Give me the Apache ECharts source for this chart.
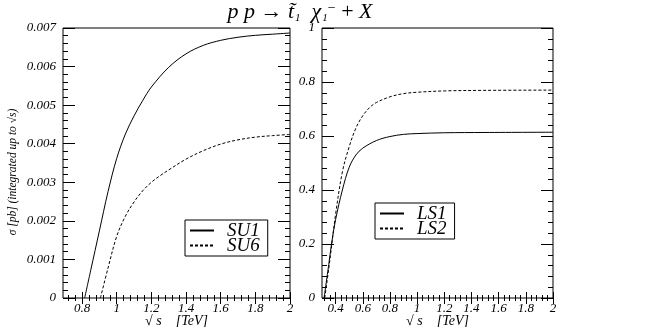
<!DOCTYPE html>
<html>
<head>
<meta charset="utf-8">
<script src="https://cdn.jsdelivr.net/npm/echarts@6/dist/echarts.min.js"></script>
<style>
  html, body { margin: 0; padding: 0; background: #fff; }
  #chart { width: 654px; height: 327px; }
</style>
</head>
<body>
<div id="chart"></div>
<script>
// integrated cross section vs sqrt(s)
const su1Energy = [0.815, 0.85, 0.9, 0.95, 1.0, 1.05, 1.1, 1.15, 1.2, 1.3, 1.4, 1.5, 1.6, 1.7, 1.8, 1.9, 2.0];
const su1Sigma  = [0, 0.00072, 0.00174, 0.00276, 0.00362, 0.00425, 0.00472, 0.00512, 0.00547, 0.00598, 0.00633, 0.00655, 0.00668, 0.00676, 0.00681, 0.00684, 0.00687];

const su6Energy = [0.906, 0.95, 1.0, 1.05, 1.1, 1.15, 1.2, 1.25, 1.3, 1.4, 1.5, 1.6, 1.7, 1.8, 1.9, 2.0];
const su6Sigma  = [0, 0.00078, 0.0016, 0.00212, 0.00249, 0.00278, 0.003, 0.00317, 0.00332, 0.0036, 0.00382, 0.00399, 0.0041, 0.00417, 0.00421, 0.00424];

const ls1Energy = [0.315, 0.35, 0.37, 0.4, 0.45, 0.5, 0.55, 0.6, 0.7, 0.8, 0.9, 1.0, 1.2, 1.5, 2.0];
const ls1Sigma  = [0, 0.125, 0.2, 0.29, 0.4, 0.484, 0.53, 0.555, 0.583, 0.598, 0.606, 0.609, 0.612, 0.613, 0.614];

const ls2Energy = [0.32, 0.35, 0.37, 0.4, 0.45, 0.5, 0.55, 0.6, 0.65, 0.7, 0.8, 0.9, 1.0, 1.2, 1.5, 2.0];
const ls2Sigma  = [0, 0.11, 0.19, 0.31, 0.467, 0.56, 0.63, 0.675, 0.705, 0.724, 0.745, 0.757, 0.762, 0.767, 0.769, 0.77];

// tick labels
const suXTicks = [0.8, 1, 1.2, 1.4, 1.6, 1.8, 2];
const suYTicks = [0, 0.001, 0.002, 0.003, 0.004, 0.005, 0.006, 0.007];
const lsXTicks = [0.4, 0.6, 0.8, 1, 1.2, 1.4, 1.6, 1.8, 2];
const lsYTicks = [0, 0.2, 0.4, 0.6, 0.8, 1];

const FONT = 'Liberation Serif';
const INK = '#000';

const stepTicks = (min, max, step) => {
  const out = [];
  for (let k = Math.ceil(min / step - 1e-9); k * step <= max + 1e-9; k++) {
    out.push(+(k * step).toFixed(6));
  }
  return out;
};

const zip = (xs, ys) => xs.map((x, i) => [x, ys[i]]);

// one axis = one set of inward ticks; labels only on the main one
const axis = (gridIndex, position, min, max, ticks, len, labels, name) => ({
  type: 'value',
  gridIndex,
  position,
  min,
  max,
  axisLine: { show: false },
  splitLine: { show: false },
  axisTick: { show: true, inside: true, length: len, customValues: ticks,
    lineStyle: { color: INK, width: 1 } },
  axisLabel: labels
    ? { show: true, customValues: labels, color: INK, fontFamily: FONT,
        fontStyle: 'italic', fontSize: 13, margin: position === 'left' ? 7 : 4 }
    : { show: false },
  name: name || '',
  nameLocation: 'middle',
  nameGap: 16,
  nameMoveOverlap: false,
  nameTextStyle: { color: INK, fontFamily: FONT, fontStyle: 'italic', fontSize: 14 }
});

const frameAxes = (g, xMin, xMax, xMajor, xStep, yMin, yMax, yMajor, yStep) => {
  const xMinor = stepTicks(xMin, xMax, xStep);
  const yMinor = stepTicks(yMin, yMax, yStep);
  return {
    x: [
      axis(g, 'bottom', xMin, xMax, xMajor, 6, xMajor, '\u221A s    [TeV]'),
      axis(g, 'bottom', xMin, xMax, xMinor, 3),
      axis(g, 'top', xMin, xMax, xMajor, 6),
      axis(g, 'top', xMin, xMax, xMinor, 3)
    ],
    y: [
      axis(g, 'left', yMin, yMax, yMajor, 12, yMajor),
      axis(g, 'left', yMin, yMax, yMinor, 5),
      axis(g, 'right', yMin, yMax, yMajor, 12),
      axis(g, 'right', yMin, yMax, yMinor, 5)
    ]
  };
};

const left = frameAxes(0, 0.69, 2, suXTicks, 0.04, 0, 0.007, suYTicks, 0.0002);
const right = frameAxes(1, 0.3, 2, lsXTicks, 0.04, 0, 1, lsYTicks, 0.04);

const curve = (name, xs, ys, xi, yi, dashed) => ({
  name,
  type: 'line',
  xAxisIndex: xi,
  yAxisIndex: yi,
  data: zip(xs, ys),
  symbol: 'none',
  smooth: 0.35,
  silent: true,
  lineStyle: { color: INK, width: 1, type: dashed ? [3, 2] : 'solid' },
  itemStyle: { color: INK }
});

const legendBox = (names, l, t) => ({
  data: names,
  orient: 'vertical',
  left: l,
  top: t,
  itemGap: -4,
  itemWidth: 24,
  itemHeight: 14,
  padding: [1, 8, 1, 4],
  borderColor: INK,
  borderWidth: 1,
  borderRadius: 0,
  selectedMode: false,
  // hide the round marker, keep the line sample
  itemStyle: { color: 'rgba(0,0,0,0)', borderWidth: 0 },
  textStyle: { color: INK, fontFamily: FONT, fontStyle: 'italic', fontSize: 19,
    lineHeight: 16, padding: [0, 0, 0, 8] }
});

const gridBase = { top: 28, height: 270, show: true, borderColor: INK, borderWidth: 1,
  backgroundColor: 'transparent', outerBoundsMode: 'none', containLabel: false };

const chart = echarts.init(document.getElementById('chart'), null, { renderer: 'canvas' });

chart.setOption({
  animation: false,
  backgroundColor: '#fff',
  grid: [
    Object.assign({ left: 63, width: 227 }, gridBase),
    Object.assign({ left: 322, width: 231 }, gridBase)
  ],
  xAxis: [...left.x, ...right.x],
  yAxis: [...left.y, ...right.y],
  legend: [
    legendBox(['SU1', 'SU6'], 185, 220),
    legendBox(['LS1', 'LS2'], 375, 203)
  ],
  series: [
    curve('SU1', su1Energy, su1Sigma, 0, 0, false),
    curve('SU6', su6Energy, su6Sigma, 0, 0, true),
    curve('LS1', ls1Energy, ls1Sigma, 4, 4, false),
    curve('LS2', ls2Energy, ls2Sigma, 4, 4, true)
  ],
  graphic: [
    {
      type: 'text',
      x: 300,
      y: 1,
      style: {
        text: '{i|p p}{n| \u2192 }{i|t\u0303}{sub|1}{n|  }{i|\u03C7}{sub|1}{sup|\u2212}{n| + }{i|X}',
        align: 'center',
        verticalAlign: 'top',
        fill: INK,
        rich: {
          i: { fontFamily: FONT, fontStyle: 'italic', fontSize: 22, lineHeight: 22, verticalAlign: 'middle' },
          n: { fontFamily: FONT, fontSize: 22, lineHeight: 22, verticalAlign: 'middle' },
          sub: { fontFamily: FONT, fontStyle: 'italic', fontSize: 11, padding: [12, 0, 0, 1], verticalAlign: 'top' },
          sup: { fontFamily: FONT, fontSize: 14, padding: [0, 0, 0, 0], verticalAlign: 'top' }
        }
      }
    },
    {
      type: 'text',
      x: 13,
      y: 172,
      rotation: Math.PI / 2,
      style: {
        text: '\u03C3 [pb] (integrated up to \u221As)',
        align: 'center',
        verticalAlign: 'middle',
        fill: INK,
        fontFamily: FONT,
        fontStyle: 'italic',
        fontSize: 11.5
      }
    }
  ]
});
</script>
</body>
</html>
